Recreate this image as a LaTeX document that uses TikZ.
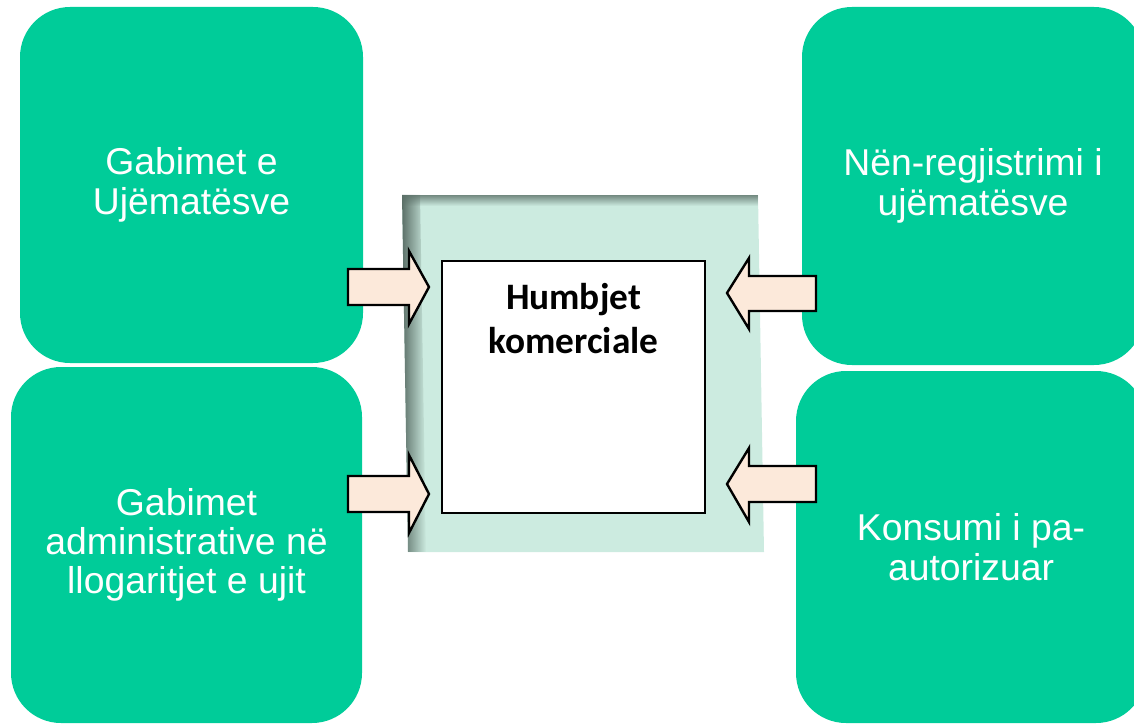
\documentclass[tikz,border=0pt]{standalone}
\usepackage{fontspec}
\setmainfont{Liberation Sans}
\newfontfamily\calibri{Carlito}
\usetikzlibrary{fadings}
\definecolor{boxgreen}{RGB}{0,204,153}
\definecolor{centerfill}{RGB}{204,235,224}
\definecolor{shadowc}{RGB}{92,112,104}
\definecolor{arrowfill}{RGB}{252,233,218}
\begin{document}
\begin{tikzpicture}[x=0.75pt,y=-0.75pt,
  greenbox/.style={rectangle, rounded corners=37.5pt, fill=boxgreen, draw=none,
    text=white, font=\fontsize{28}{29.5}\selectfont, align=center, inner sep=0pt},
  whitebox/.style={rectangle, fill=white, draw=black, line width=1.2pt, inner sep=0pt,
    minimum width=197.25pt, minimum height=189pt},
  hktext/.style={font=\calibri\bfseries\fontsize{28}{33}\selectfont, align=center, inner sep=0pt},
  blockarrow/.style={fill=arrowfill, draw=black, line width=1.8pt, line join=miter}]
\useasboundingbox (0,0) rectangle (1134,724);
\clip (0,0) rectangle (1134,724);
% green boxes
\node[greenbox, minimum width=257.25pt, minimum height=267pt] (tl) at (191.5,185) {Gabimet e\\Ujëmatësve};
\node[greenbox, minimum width=263.25pt, minimum height=267pt] (bl) at (186.5,545) {Gabimet\\administrative në\\llogaritjet e ujit};
\node[greenbox, minimum width=256.5pt, minimum height=268.5pt] (tr) at (973,186) {Nën-regjistrimi i\\ujëmatësve};
\node[greenbox, minimum width=262.5pt, minimum height=264pt] (br) at (971,547) {Konsumi i pa-\\autorizuar};
% center shaded panel
\begin{scope}[shift={(402,195)}, xslant=-0.0168]
  \fill[centerfill] (0,0) rectangle (356,357);
  \shade[top color=shadowc!80!centerfill, bottom color=centerfill] (0,0) rectangle (356,11);
  \fill[shadowc, path fading=east] (0,0) rectangle (18,357);
\end{scope}
% white box
\node[whitebox] (hk) at (573.5,387) {};
\node[hktext, anchor=north] (hkt) at ([yshift=-17pt]hk.north) {Humbjet\\komerciale};
% block arrows
\draw[blockarrow] (348,269) -- (409,269) -- (409,251) -- (429,287) -- (409,324) -- (409,305) -- (348,305) -- cycle;
\draw[blockarrow] (348,476) -- (409,476) -- (409,455) -- (429,494) -- (409,533) -- (409,512) -- (348,512) -- cycle;
\draw[blockarrow] (816,276) -- (749,276) -- (749,258) -- (727,293) -- (749,329) -- (749,311) -- (816,311) -- cycle;
\draw[blockarrow] (816,466) -- (749,466) -- (749,448) -- (727,484) -- (749,522) -- (749,502) -- (816,502) -- cycle;
\end{tikzpicture}
\end{document}
